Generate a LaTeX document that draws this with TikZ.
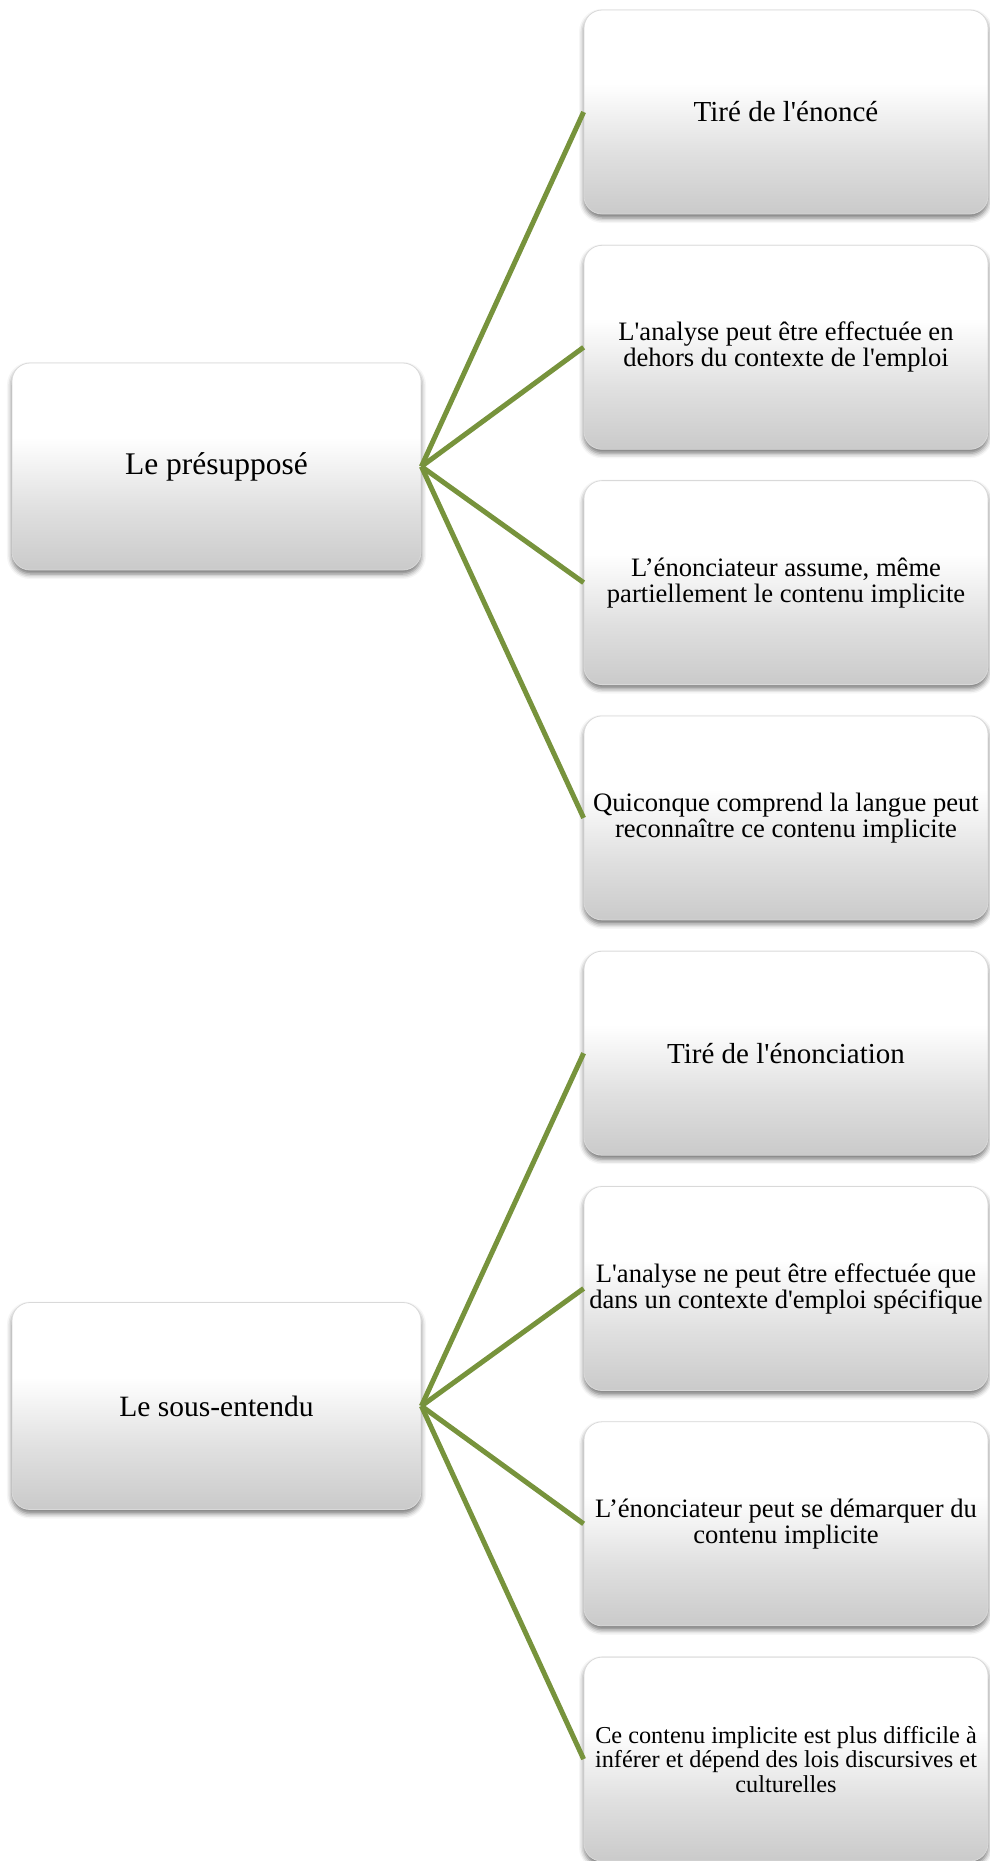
\documentclass[tikz,border=0pt]{standalone}
\usepackage{fontspec}
\setmainfont{Liberation Serif}
\usetikzlibrary{shadows.blur}
\definecolor{boxbot}{HTML}{CACACA}
\definecolor{boxmid}{HTML}{E0E0E0}
\definecolor{linkgreen}{HTML}{77933C}
\pgfdeclareverticalshading{boxshade}{100bp}{color(0bp)=(boxbot); color(25bp)=(boxbot); color(40bp)=(boxmid); color(57bp)=(white); color(100bp)=(white)}
\newcommand{\sq}{\textquotesingle}
\tikzset{
  gbox/.style={draw=gray!30, line width=0.8pt, rounded corners=18pt, shade, shading=boxshade,
    blur shadow={shadow xshift=0pt, shadow yshift=-4pt, shadow blur radius=5pt, shadow opacity=55},
    align=center, inner sep=2pt},
  leftbox/.style={gbox, minimum width=409pt, minimum height=207pt},
  rightbox/.style={gbox, minimum width=404pt, minimum height=204pt},
  onefont/.style={font=\fontsize{29}{31}\selectfont},
  twofont/.style={font=\fontsize{26.6}{26}\selectfont},
  threefont/.style={font=\fontsize{24.3}{24.5}\selectfont},
  link/.style={draw=linkgreen, line width=5pt}
}
\begin{document}
\begin{tikzpicture}[x=1pt,y=-1pt]
\useasboundingbox (0,0) rectangle (990,1861);
\node[leftbox, font=\fontsize{31.5}{33}\selectfont] (L1) at (216.5,466.5) {Le présupposé};
\node[leftbox, font=\fontsize{29.5}{33}\selectfont] (L2) at (216.5,1406) {Le sous-entendu};
\node[rightbox, onefont] (R1) at (786,112) {Tiré de l\sq énoncé};
\node[rightbox, twofont] (R2) at (786,347.3) {L\sq analyse peut être effectuée en\\dehors du contexte de l\sq emploi};
\node[rightbox, twofont] (R3) at (786,582.6) {L’énonciateur assume, même\\partiellement le contenu implicite};
\node[rightbox, twofont] (R4) at (786,817.9) {Quiconque comprend la langue peut\\reconnaître ce contenu implicite};
\node[rightbox, onefont] (R5) at (786,1053.2) {Tiré de l\sq énonciation};
\node[rightbox, twofont] (R6) at (786,1288.5) {L\sq analyse ne peut être effectuée que\\dans un contexte d\sq emploi spécifique};
\node[rightbox, twofont] (R7) at (786,1523.8) {L’énonciateur peut se démarquer du\\contenu implicite};
\node[rightbox, threefont] (R8) at (786,1759.1) {Ce contenu implicite est plus difficile à\\inférer et dépend des lois discursives et\\culturelles};
\foreach \r in {R1,R2,R3,R4} \draw[link] (L1.east) -- (\r.west);
\foreach \r in {R5,R6,R7,R8} \draw[link] (L2.east) -- (\r.west);
\end{tikzpicture}
\end{document}
